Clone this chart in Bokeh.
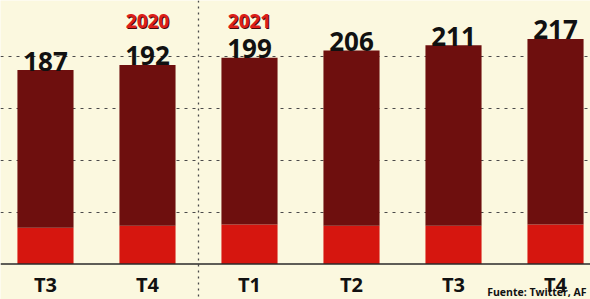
from bokeh.plotting import figure
from bokeh.models import Range1d, Span, FixedTicker, ColumnDataSource
from bokeh.core.properties import value
from bokeh.embed import file_html
from bokeh.resources import INLINE

# ---- data ----
quarters = ["T3", "T4", "T1", "T2", "T3", "T4"]
users = [187, 192, 199, 206, 211, 217]          # millions
base_band = [35, 37, 38, 37, 37, 38]             # bright red lower band
years = ["2020", "2021"]
year_index = [1, 2]
grid_ticks = [50, 100, 150, 200]
source_note = "Fuente: Twitter, AF"

BG = "#fbf8df"
DARK = "#6e0f0e"
RED = "#d6160f"
FONT = value("Open Sans")

x = list(range(len(quarters)))
src = ColumnDataSource(dict(x=x, q=quarters, v=users, b=base_band,
                            lbl=[str(u) for u in users]))

p = figure(width=590, height=299, output_backend="svg", toolbar_location=None,
           tools="", x_range=Range1d(-0.441, 5.343), y_range=Range1d(-34.2, 254.1),
           x_axis_location=None, y_axis_location=None, min_border=0)
p.background_fill_color = BG
p.border_fill_color = BG
p.outline_line_color = None

p.xgrid.visible = False
p.ygrid.ticker = FixedTicker(ticks=grid_ticks)
p.ygrid.grid_line_color = "#4a4a4a"
p.ygrid.grid_line_dash = "3 5"
p.ygrid.grid_line_width = 1

# year separator
p.add_layout(Span(location=1.5, dimension="height", line_color="#4a4a4a",
                  line_dash="2 4", line_width=1.3, level="underlay"))

# bars
p.vbar(x="x", bottom=0, top="b", width=0.55, fill_color=RED, line_color=None, source=src)
p.vbar(x="x", bottom="b", top="v", width=0.55, fill_color=DARK, line_color=None, source=src)

# baseline
p.add_layout(Span(location=0, dimension="width", line_color="#2a2a2a", line_width=1.5))

# value labels
p.text(x="x", y="v", text="lbl", source=src, text_align="center",
       text_baseline="alphabetic", y_offset=-9, text_font=FONT,
       text_font_style="bold", text_font_size="26px", text_color="#111111")

# category labels
p.text(x="x", y=0, text="q", source=src, text_align="center",
       text_baseline="alphabetic", y_offset=20, text_font=FONT,
       text_font_style="bold", text_font_size="20px", text_color="#111111")

# year labels
ysrc = ColumnDataSource(dict(x=year_index, t=years, y=[234] * len(years)))
p.text(x="x", y="y", text="t", source=ysrc, text_align="center",
       text_baseline="alphabetic", x_offset=1, y_offset=1, text_font=FONT,
       text_font_style="bold", text_font_size="19px", text_color="#4a0808")
p.text(x="x", y="y", text="t", source=ysrc, text_align="center",
       text_baseline="alphabetic", text_font=FONT,
       text_font_style="bold", text_font_size="19px", text_color="#dc1f1a")

# source note
p.text(x=[p.x_range.end], y=[p.y_range.start], text=[source_note], text_align="right",
       text_baseline="middle", x_offset=-4, y_offset=-8, text_font=FONT,
       text_font_style="bold", text_font_size="10.5px", text_color="#111111")

open("out.html", "w").write(file_html(p, INLINE))
